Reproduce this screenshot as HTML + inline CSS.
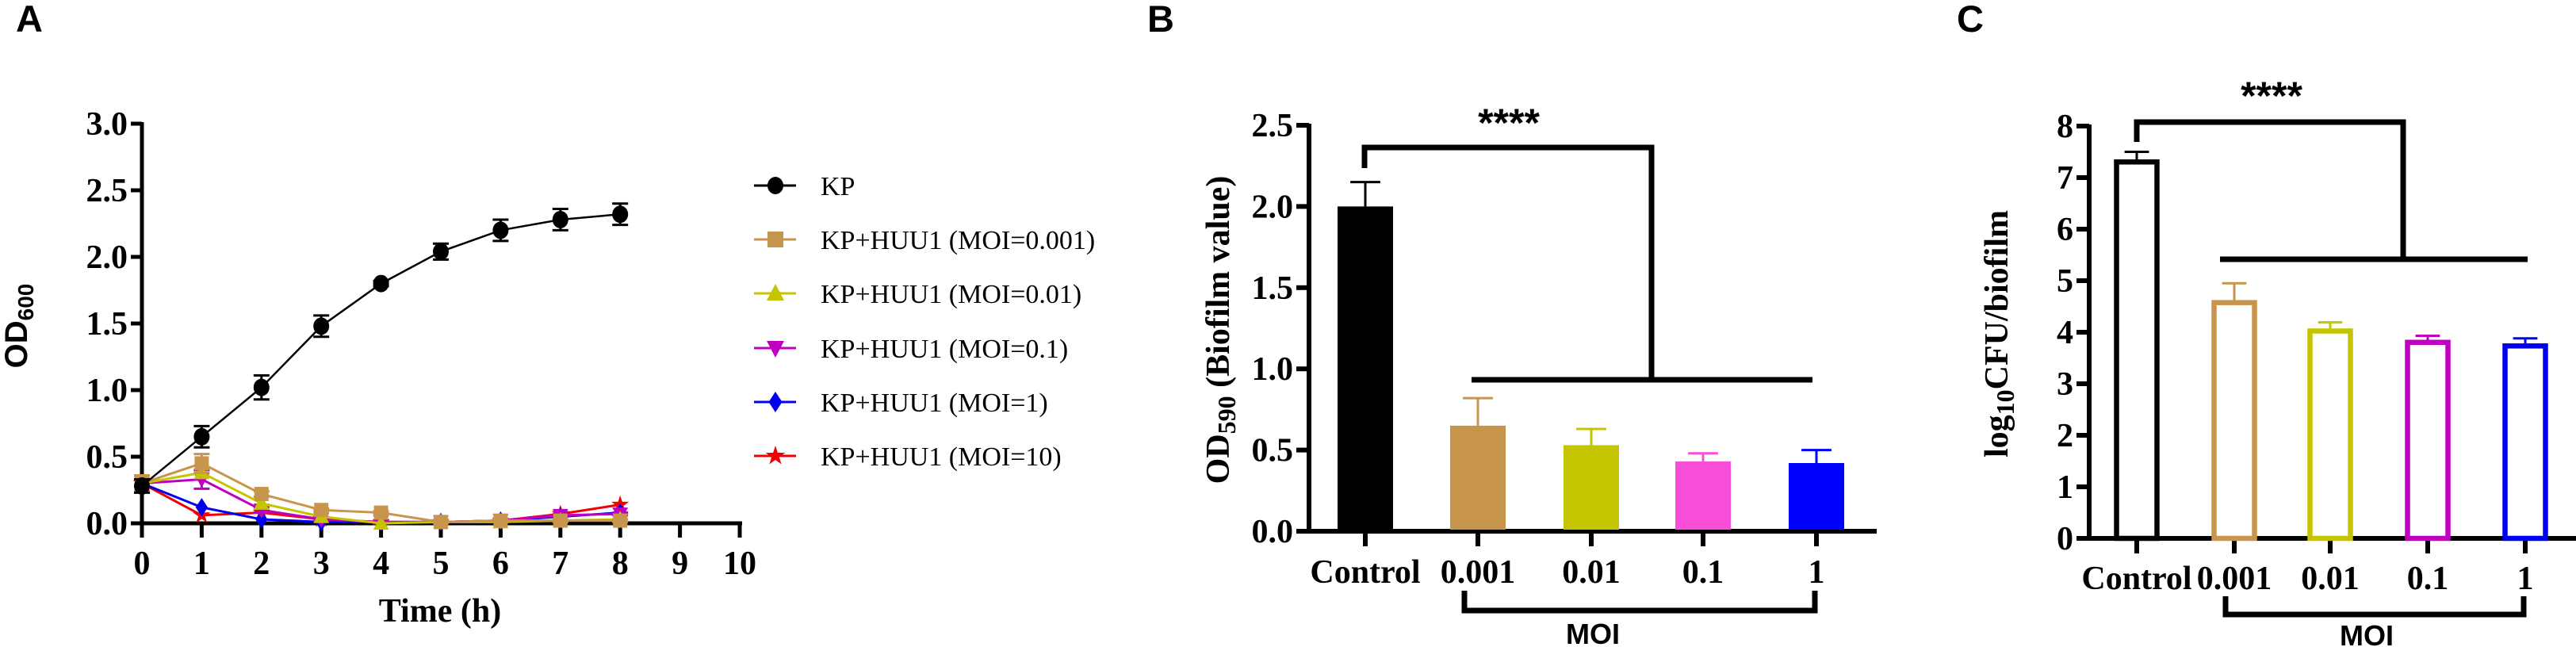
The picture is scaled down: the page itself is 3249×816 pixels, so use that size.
<!DOCTYPE html>
<html><head><meta charset="utf-8"><style>
html,body{margin:0;padding:0;background:#fff;}
svg{display:block;}
.tick{font-family:"Liberation Serif",serif;font-weight:bold;font-size:42px;}
.leg{font-family:"Liberation Serif",serif;font-size:34px;}
.sans{font-family:"Liberation Sans",sans-serif;font-weight:bold;}
</style></head><body>
<svg id="fig" width="3249" height="816" viewBox="0 0 3249 816" xmlns="http://www.w3.org/2000/svg">
<text x="20" y="40" class="sans" font-size="47">A</text>
<text x="1447" y="40" class="sans" font-size="47">B</text>
<text x="2468" y="40" class="sans" font-size="47">C</text>
<g id="pa"></g>
<g id="pb"></g>
<g id="pc"></g>
</svg>
<script>
// ---- Panel A data ----
const timeH = [0,1,2,3,4,5,6,7,8];
const xTicksA = [0,1,2,3,4,5,6,7,8,9,10];
const yTicksA = ["0.0","0.5","1.0","1.5","2.0","2.5","3.0"];
const seriesNames = ["KP","KP+HUU1 (MOI=0.001)","KP+HUU1 (MOI=0.01)","KP+HUU1 (MOI=0.1)","KP+HUU1 (MOI=1)","KP+HUU1 (MOI=10)"];
const kpVals = [0.28,0.65,1.02,1.48,1.80,2.04,2.20,2.28,2.32];
const kpErr = [0.05,0.08,0.09,0.08,0.02,0.06,0.08,0.08,0.08];
const moi0001Vals = [0.30,0.45,0.22,0.10,0.08,0.01,0.02,0.02,0.02];
const moi001Vals = [0.30,0.38,0.15,0.05,0.00,0.01,0.01,0.02,0.03];
const moi01Vals = [0.30,0.33,0.10,0.03,0.01,0.01,0.02,0.06,0.07];
const moi1Vals = [0.30,0.12,0.03,0.01,0.01,0.01,0.02,0.05,0.08];
const moi10Vals = [0.30,0.06,0.08,0.03,0.01,0.01,0.02,0.07,0.14];
const lowErr = [0.06,0.07,0.02,0.01,0.01,0.01,0.01,0.01,0.01];
// ---- Panel B data ----
const catsB = ["Control","0.001","0.01","0.1","1"];
const odVals = [2.00,0.65,0.53,0.43,0.42];
const odErr = [0.15,0.17,0.10,0.05,0.08];
const yTicksB = ["0.0","0.5","1.0","1.5","2.0","2.5"];
// ---- Panel C data ----
const catsC = ["Control","0.001","0.01","0.1","1"];
const cfuVals = [7.35,4.62,4.07,3.85,3.78];
const cfuErr = [0.15,0.33,0.12,0.08,0.10];
const yTicksC = ["0","1","2","3","4","5","6","7","8"];

const NS="http://www.w3.org/2000/svg";
function mk(parent,tag,attrs,text){const e=document.createElementNS(NS,tag);for(const k in attrs)e.setAttribute(k,attrs[k]);if(text!==undefined)e.textContent=text;parent.appendChild(e);return e;}

const colors=["#000000","#c8954c","#c5c400","#c000c0","#0000f0","#f00000"];
const barColorsB=["#000000","#c8954c","#c5c400","#f94fd8","#0000ff"];
const barColorsC=["#000000","#c8954c","#c5c400","#c000c0","#0000f0"];

// ===== Panel A =====
(function(){
const g=document.getElementById('pa');
const X0=179, XS=75.4, Y0=660, YS=168;
const xA=v=>X0+v*XS, yA=v=>Y0-v*YS;
let e;
e=mk(g,'line',{x1:X0,y1:yA(3)-2,x2:X0,y2:Y0+3,stroke:'#000','stroke-width':5});


e=mk(g,'line',{x1:X0-3,y1:Y0,x2:xA(10)+3,y2:Y0,stroke:'#000','stroke-width':5});


yTicksA.forEach(t=>{const y=yA(parseFloat(t));
 mk(g,'line',{x1:X0-14,y1:y,x2:X0,y2:y,stroke:'#000','stroke-width':5});
 e=mk(g,'text',{x:X0-18,y:y+14,'text-anchor':'end',class:'tick'},t);
 
 });
xTicksA.forEach(t=>{const x=xA(t);
 mk(g,'line',{x1:x,y1:Y0,x2:x,y2:Y0+18,stroke:'#000','stroke-width':5});
 e=mk(g,'text',{x:x,y:724,'text-anchor':'middle',class:'tick'},String(t));
 
 });
e=mk(g,'text',{x:555,y:784,'text-anchor':'middle',class:'tick'},'Time (h)');


e=mk(g,'text',{transform:'translate(34,411) rotate(-90)','text-anchor':'middle',class:'sans','font-size':40});


mk(e,'tspan',{},'OD');mk(e,'tspan',{'font-size':28,dy:8},'600');

const all=[kpVals,moi0001Vals,moi001Vals,moi01Vals,moi1Vals,moi10Vals];
const errs=[kpErr,lowErr,lowErr,lowErr,lowErr,lowErr];
function marker(par,k,x,y,s){
 const c=colors[k];
 if(k===0) return mk(par,'ellipse',{cx:x,cy:y,rx:10,ry:11,fill:c});
 if(k===1) return mk(par,'rect',{x:x-s,y:y-s,width:2*s,height:2*s,fill:c});
 if(k===2) return mk(par,'polygon',{points:`${x},${y-s*1.2} ${x-s*1.1},${y+s*0.9} ${x+s*1.1},${y+s*0.9}`,fill:c});
 if(k===3) return mk(par,'polygon',{points:`${x},${y+s*1.2} ${x-s*1.1},${y-s*0.9} ${x+s*1.1},${y-s*0.9}`,fill:c});
 if(k===4) return mk(par,'polygon',{points:`${x},${y-s*1.3} ${x-s*0.85},${y} ${x},${y+s*1.3} ${x+s*0.85},${y}`,fill:c});
 let p=[];for(let i=0;i<10;i++){const r=i%2?s*0.5:s*1.3;const a=-Math.PI/2+i*Math.PI/5;p.push((x+r*Math.cos(a)).toFixed(1)+','+(y+r*Math.sin(a)).toFixed(1));}
 return mk(par,'polygon',{points:p.join(' '),fill:c});
}
const order=[5,4,3,2,1,0];
order.forEach(k=>{
 const s=mk(g,'g',{});
 
 
 const vals=all[k];
 const pts=timeH.map((t,i)=>xA(t)+','+yA(vals[i])).join(' ');
 mk(s,'polyline',{points:pts,fill:'none',stroke:colors[k],'stroke-width':k===0?2.5:3});
 timeH.forEach((t,i)=>{const x=xA(t),v=vals[i],er=errs[k][i];
  if(k===0||k===3||k===1){mk(s,'line',{x1:x,y1:yA(v+er),x2:x,y2:yA(v-er),stroke:colors[k],'stroke-width':3});
   mk(s,'line',{x1:x-10,y1:yA(v+er),x2:x+10,y2:yA(v+er),stroke:colors[k],'stroke-width':3});
   mk(s,'line',{x1:x-10,y1:yA(v-er),x2:x+10,y2:yA(v-er),stroke:colors[k],'stroke-width':3});}
  const m=marker(s,k,x,yA(v),9);
  
  
 });
});
const legY=[234,302,370,439,507,575];
seriesNames.forEach((n,k)=>{
 const lg=mk(g,'g',{});
 
 
 mk(lg,'line',{x1:951,y1:legY[k],x2:1004,y2:legY[k],stroke:colors[k],'stroke-width':3});
 marker(lg,k,978,legY[k],10);
 mk(lg,'text',{x:1035,y:legY[k]+12,class:'leg'},n);
});
})();

// ===== Bar panels =====
function barPanel(id,cfg){
 const g=document.getElementById(id);
 const {X0,XEND,Y0,YS,centers,w,cats,vals,errs,ticks,cols,hollow}=cfg;
 const yB=v=>Y0-v*YS;
 let e;
 e=mk(g,'line',{x1:X0,y1:yB(parseFloat(ticks[ticks.length-1]))-2,x2:X0,y2:Y0+3,stroke:'#000','stroke-width':6});
 
 
 e=mk(g,'line',{x1:X0-3,y1:Y0,x2:XEND,y2:Y0,stroke:'#000','stroke-width':6});
 
 
 ticks.forEach(t=>{const y=yB(parseFloat(t));
  mk(g,'line',{x1:X0-16,y1:y,x2:X0,y2:y,stroke:'#000','stroke-width':6});
  e=mk(g,'text',{x:X0-20,y:y+14,'text-anchor':'end',class:'tick'},t);
  
  });
 cats.forEach((c,i)=>{
  const x=centers[i],v=vals[i],er=errs[i],col=cols[i];
  mk(g,'line',{x1:x,y1:Y0,x2:x,y2:Y0+19,stroke:'#000','stroke-width':6});
  e=mk(g,'text',{x:x,y:cfg.labY,'text-anchor':'middle',class:'tick'},c);
  
  
  mk(g,'line',{x1:x,y1:yB(v),x2:x,y2:yB(v+er),stroke:col,'stroke-width':3});
  mk(g,'line',{x1:x-w*0.27,y1:yB(v+er),x2:x+w*0.27,y2:yB(v+er),stroke:col,'stroke-width':3});
  let b;
  if(hollow) b=mk(g,'rect',{x:x-w/2+3,y:yB(v)+3,width:w-6,height:Y0-yB(v)-3,fill:'none',stroke:col,'stroke-width':6.5});
  else b=mk(g,'rect',{x:x-w/2,y:yB(v),width:w,height:Y0-yB(v)-2,fill:col});
  
  
 });
}
barPanel('pb',{X0:1651,XEND:2367,Y0:670,YS:204.8,centers:[1722,1864,2007,2148,2291],w:70,cats:catsB,vals:odVals,errs:odErr,ticks:yTicksB,cols:barColorsB,hollow:false,labY:735});
barPanel('pc',{X0:2635,XEND:3249,Y0:679,YS:65,centers:[2695,2818,2939,3062,3185],w:57,cats:catsC,vals:cfuVals,errs:cfuErr,ticks:yTicksC,cols:barColorsC,hollow:true,labY:743});

// annotations B
(function(){
 const g=document.getElementById('pb');let e;
 e=mk(g,'polyline',{points:'1721,212 1721,186 2083,186 2083,479',fill:'none',stroke:'#000','stroke-width':7});
 
 
 mk(g,'line',{x1:1856,y1:479,x2:2286,y2:479,stroke:'#000','stroke-width':7});
 e=mk(g,'text',{x:1903,y:172,'text-anchor':'middle',class:'sans','font-size':50},'****');
 
 
 mk(g,'polyline',{points:'1847,745 1847,770 2289,770 2289,745',fill:'none',stroke:'#000','stroke-width':7});
 e=mk(g,'text',{x:2009,y:812,'text-anchor':'middle',class:'sans','font-size':36},'MOI');
 
 
 e=mk(g,'text',{transform:'translate(1550,416) rotate(-90)','text-anchor':'middle',class:'tick','font-size':46});
 
 
 mk(e,'tspan',{},'OD');mk(e,'tspan',{'font-size':32,dy:8},'590');mk(e,'tspan',{dy:-8},' (Biofilm value)');
})();
// annotations C
(function(){
 const g=document.getElementById('pc');let e;
 e=mk(g,'polyline',{points:'2695,179 2695,154 3031,154 3031,327',fill:'none',stroke:'#000','stroke-width':7});
 
 
 mk(g,'line',{x1:2800,y1:327,x2:3188,y2:327,stroke:'#000','stroke-width':7});
 e=mk(g,'text',{x:2865,y:138,'text-anchor':'middle',class:'sans','font-size':50},'****');
 
 
 mk(g,'polyline',{points:'2807,752 2807,775 3183,775 3183,752',fill:'none',stroke:'#000','stroke-width':7});
 e=mk(g,'text',{x:2985,y:814,'text-anchor':'middle',class:'sans','font-size':36},'MOI');
 
 
 e=mk(g,'text',{transform:'translate(2532,421) rotate(-90)','text-anchor':'middle',class:'tick','font-size':46});
 
 
 mk(e,'tspan',{},'log');mk(e,'tspan',{'font-size':32,dy:8},'10');mk(e,'tspan',{dy:-8},'CFU/biofilm');
})();
</script>
</body></html>
